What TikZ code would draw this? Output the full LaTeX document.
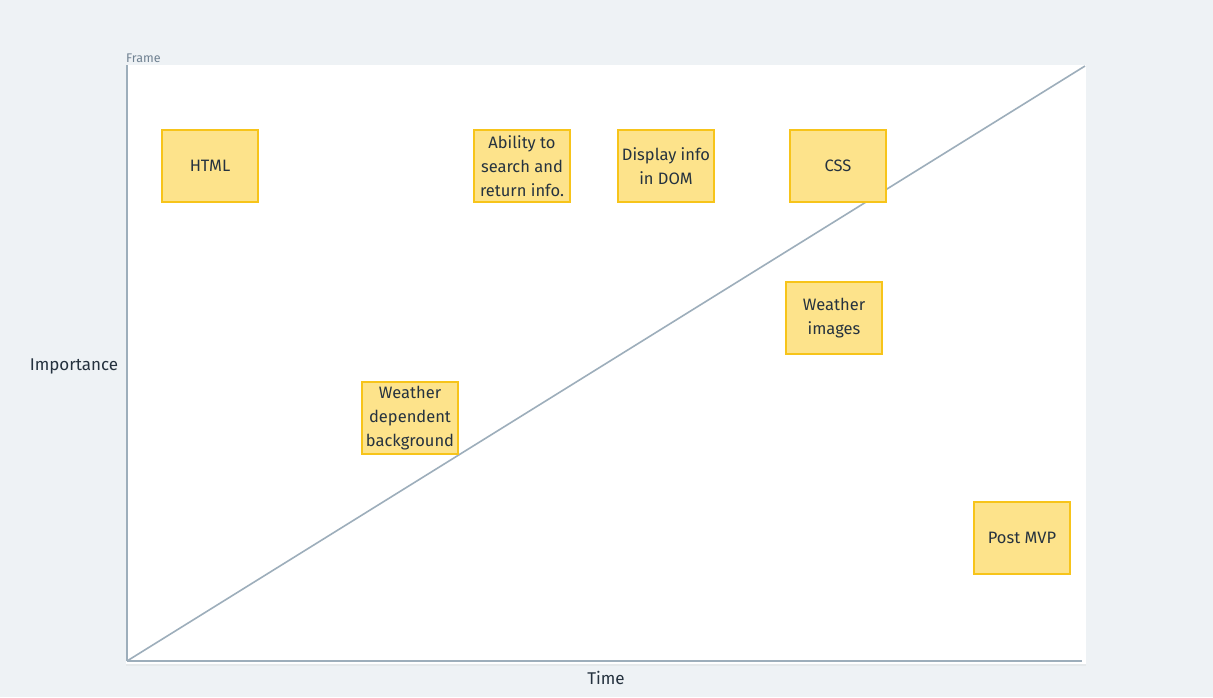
\documentclass[tikz,border=0pt]{standalone}
\usepackage{fontspec}
\setmainfont{Fira Sans}
\usetikzlibrary{shadows}
\definecolor{bgc}{HTML}{EEF2F5}
\definecolor{axisc}{HTML}{9DAEBB}
\definecolor{notefill}{HTML}{FDE38B}
\definecolor{notedraw}{HTML}{F7C41A}
\definecolor{txt}{HTML}{25323F}
\definecolor{framelbl}{HTML}{6F8191}
\tikzset{
  sticky/.style={draw=notedraw, line width=1.6pt, fill=notefill, minimum width=96pt, minimum height=72pt, inner sep=0pt, align=center, text=txt, font=\fontsize{16.5}{24}\selectfont},
  axisline/.style={draw=axisc, line width=1.6pt},
  lbl/.style={text=txt, font=\fontsize{17}{18}\selectfont, inner sep=0pt}
}
\begin{document}
\begin{tikzpicture}[x=1pt,y=-1pt]
\fill[bgc] (0,0) rectangle (1213,697);
\useasboundingbox (0,0) rectangle (1213,697);
\fill[white, drop shadow={opacity=0.08, shadow xshift=0pt, shadow yshift=-2pt}] (126,65) rectangle (1086,664);
\node[anchor=south west, inner sep=0pt, text=framelbl, font=\fontsize{12.5}{14}\selectfont] (framelabel) at (126,63) {Frame};
\coordinate (origin) at (127,661);
\coordinate (ytop) at (127,65);
\coordinate (xend) at (1082,661);
\coordinate (diagend) at (1085,66);
\draw[axisline] (origin) -- (ytop);
\draw[axisline] (origin) -- (xend);
\draw[axisline] (origin) -- (diagend);
\node[sticky] (html) at (210,166) {HTML};
\node[sticky] (ability) at (522,166) {Ability to\\search and\\return info.};
\node[sticky] (display) at (666,166) {Display info\\in DOM};
\node[sticky] (css) at (838,166) {CSS};
\node[sticky] (wimages) at (834,318) {Weather\\images};
\node[sticky] (wdep) at (410,418) {Weather\\dependent\\background};
\node[sticky] (post) at (1022,538) {Post MVP};
\node[lbl] (importance) at (74,366) {Importance};
\node[lbl] (time) at (606,678) {Time};
\end{tikzpicture}
\end{document}
